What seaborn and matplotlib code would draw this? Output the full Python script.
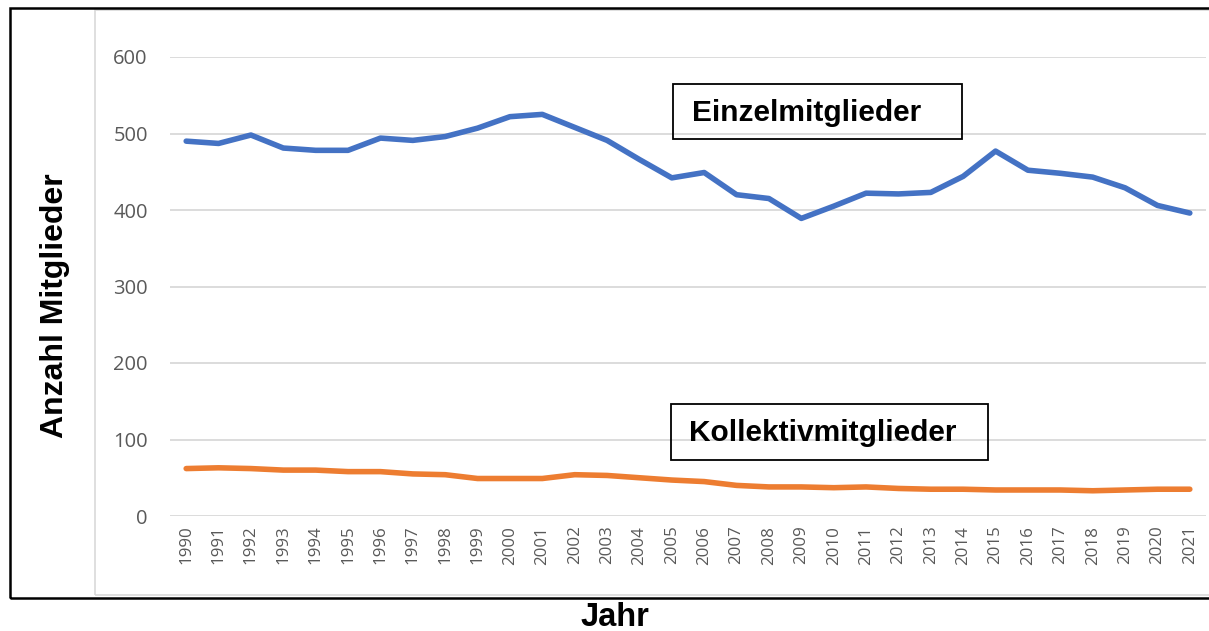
"""
Mitgliederentwicklung 1990-2021: Einzel- und Kollektivmitglieder
"""

import pandas as pd
import matplotlib.pyplot as plt
import matplotlib.patches as mpatches
import seaborn as sns

# ─────────────────────────────────────────────
# DATA
# ─────────────────────────────────────────────
years = list(range(1990, 2022))
einzel = [490, 487, 498, 481, 478, 478, 494, 491, 496, 507, 522, 525,
          508, 491, 466, 442, 449, 420, 415, 389, 405, 422, 421, 423,
          444, 477, 452, 448, 443, 429, 406, 396]
kollektiv = [62, 63, 62, 60, 60, 58, 58, 55, 54, 49, 49, 49,
             54, 53, 50, 47, 45, 40, 38, 38, 37, 38, 36, 35,
             35, 34, 34, 34, 33, 34, 35, 35]
series_names = ["Einzelmitglieder", "Kollektivmitglieder"]
y_ticks = [0, 100, 200, 300, 400, 500, 600]

df = pd.DataFrame({
    "Jahr": years * 2,
    "Anzahl": einzel + kollektiv,
    "Serie": [series_names[0]] * len(years) + [series_names[1]] * len(years),
})

# ─────────────────────────────────────────────
# STYLE
# ─────────────────────────────────────────────
sns.set_theme(style="white")
plt.rcParams["font.family"] = ["Open Sans", "DejaVu Sans"]

W, H = 1209, 631
fig = plt.figure(figsize=(W / 100, H / 100), dpi=100)
ax = fig.add_axes([170 / W, 1 - 516 / H, (1206 - 170) / W, (516 - 57) / H])

sns.lineplot(
    data=df, x="Jahr", y="Anzahl", hue="Serie",
    palette={series_names[0]: "#4472C4", series_names[1]: "#ED7D31"},
    linewidth=4, legend=False, ax=ax,
)
for line in ax.lines:
    line.set_solid_capstyle("round")

ax.set_xlim(years[0] - 0.5, years[-1] + 0.5)
ax.set_ylim(0, 600)
ax.set_yticks(y_ticks)
ax.set_xticks(years)
ax.set_xticklabels([str(y) for y in years], rotation=90)
ax.tick_params(axis="y", labelsize=14.5, labelcolor="#595959", length=0, pad=16)
ax.tick_params(axis="x", labelsize=12.2, labelcolor="#595959", length=0, pad=7)
ax.grid(axis="y", color="#d9d9d9", linewidth=1.3)
ax.set_axisbelow(True)
for s in ax.spines.values():
    s.set_visible(False)
ax.set_xlabel("")
ax.set_ylabel("")

# axis titles
fig.text(55 / W, 1 - 306 / H, "Anzahl Mitglieder", rotation=90,
         ha="center", va="center", fontsize=23, fontweight="bold",
         family="Liberation Sans", color="black")
fig.text(615 / W, 1 - 617 / H, "Jahr", ha="center", va="center",
         fontsize=23.5, fontweight="bold", family="Liberation Sans", color="black")

# ─────────────────────────────────────────────
# FRAMES AND LABEL BOXES (figure pixels)
# ─────────────────────────────────────────────
def px_rect(x0, y0, x1, y1, **kw):
    return mpatches.Rectangle((x0 / W, 1 - y1 / H), (x1 - x0) / W, (y1 - y0) / H,
                              transform=fig.transFigure, fill=False, **kw)

fig.patches.append(px_rect(95, 10, 1230, 595, edgecolor="#d9d9d9", linewidth=1.2))
fig.patches.append(px_rect(10, 8, 1230, 598, edgecolor="black", linewidth=1.8))

boxes = [
    (series_names[0], (673, 84, 962, 139), 807, 113),
    (series_names[1], (671, 404, 988, 460), 823, 433),
]
for label, (x0, y0, x1, y1), tx, ty in boxes:
    fig.patches.append(px_rect(x0, y0, x1, y1, edgecolor="black", linewidth=1.3))
    fig.text(tx / W, 1 - ty / H, label, ha="center", va="center",
             fontsize=21.5, fontweight="bold", family="Liberation Sans",
             color="black")

fig.savefig("out.png", dpi=100)
